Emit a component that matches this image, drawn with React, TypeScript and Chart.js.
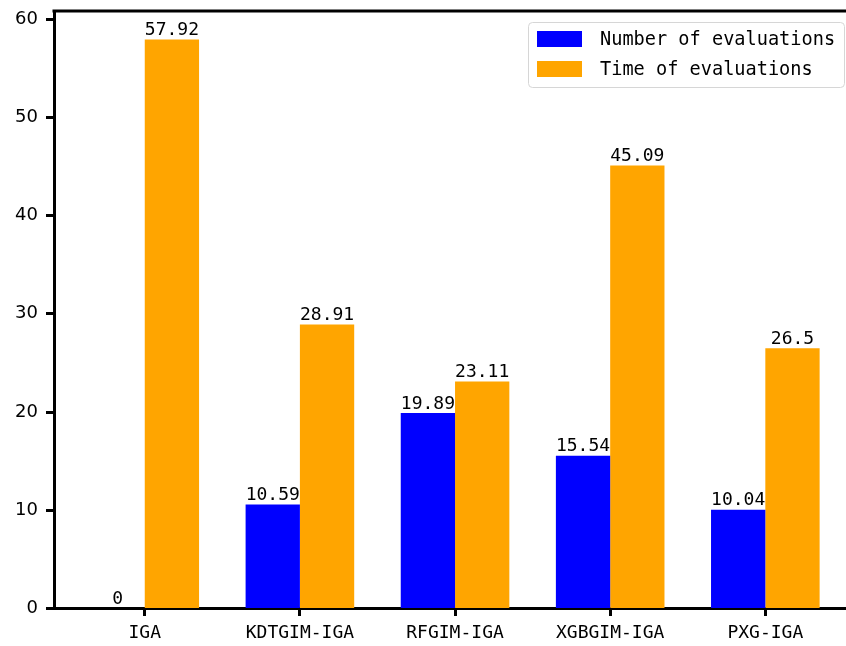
import React, { useEffect, useRef } from "react";
import { Chart, registerables } from "chart.js";

Chart.register(...registerables);

const categories = ["IGA", "KDTGIM-IGA", "RFGIM-IGA", "XGBGIM-IGA", "PXG-IGA"];
const numberOfEvaluations = [0, 10.59, 19.89, 15.54, 10.04];
const timeOfEvaluations = [57.92, 28.91, 23.11, 45.09, 26.5];
const seriesNames = ["Number of evaluations", "Time of evaluations"];
const seriesColors = ["#0000ff", "#ffa500"];
const yTickValues = [0, 10, 20, 30, 40, 50, 60];
const positions = [0, 1, 2, 3, 4];

const MONO = "'DejaVu Sans Mono', monospace";
const SANS = "'DejaVu Sans', sans-serif";

// Value text above each bar
const valueLabels = {
  id: "valueLabels",
  afterDatasetsDraw(chart: any) {
    const ctx = chart.ctx;
    ctx.save();
    ctx.font = `18px ${MONO}`;
    ctx.fillStyle = "#000";
    ctx.textAlign = "center";
    ctx.textBaseline = "alphabetic";
    chart.data.datasets.forEach((ds: any, di: number) => {
      const meta = chart.getDatasetMeta(di);
      meta.data.forEach((bar: any, i: number) => {
        const v = ds.data[i].y;
        ctx.fillText(String(v), bar.x, bar.y - 4.5);
      });
    });
    ctx.restore();
  },
};

// Top spine and legend box
const frameAndLegend = {
  id: "frameAndLegend",
  afterDraw(chart: any) {
    const ctx = chart.ctx;
    const a = chart.chartArea;
    ctx.save();
    ctx.strokeStyle = "#000";
    ctx.lineWidth = 3;
    ctx.beginPath();
    ctx.moveTo(a.left - 1.5, a.top);
    ctx.lineTo(a.right, a.top);
    ctx.stroke();

    const bx = 528.5, by = 22.5, bw = 316, bh = 65, r = 4;
    ctx.beginPath();
    ctx.moveTo(bx + r, by);
    ctx.lineTo(bx + bw - r, by);
    ctx.quadraticCurveTo(bx + bw, by, bx + bw, by + r);
    ctx.lineTo(bx + bw, by + bh - r);
    ctx.quadraticCurveTo(bx + bw, by + bh, bx + bw - r, by + bh);
    ctx.lineTo(bx + r, by + bh);
    ctx.quadraticCurveTo(bx, by + bh, bx, by + bh - r);
    ctx.lineTo(bx, by + r);
    ctx.quadraticCurveTo(bx, by, bx + r, by);
    ctx.closePath();
    ctx.fillStyle = "rgba(255,255,255,0.8)";
    ctx.fill();
    ctx.strokeStyle = "#d6d6d6";
    ctx.lineWidth = 1;
    ctx.stroke();

    ctx.font = `18.6px ${MONO}`;
    ctx.textAlign = "left";
    ctx.textBaseline = "middle";
    seriesNames.forEach((name, i) => {
      const cy = 39 + i * 30;
      ctx.fillStyle = seriesColors[i];
      ctx.fillRect(537, cy - 8, 45, 16);
      ctx.fillStyle = "#000";
      ctx.fillText(name, 600, cy + 1);
    });
    ctx.restore();
  },
};

export default function App() {
  const canvasRef = useRef<HTMLCanvasElement | null>(null);

  useEffect(() => {
    if (!canvasRef.current) return;
    const chart = new Chart(canvasRef.current, {
      type: "bar",
      data: {
        datasets: [
          {
            label: seriesNames[0],
            data: positions.map((x, i) => ({ x, y: numberOfEvaluations[i] })),
            backgroundColor: seriesColors[0],
            borderWidth: 0,
          },
          {
            label: seriesNames[1],
            data: positions.map((x, i) => ({ x, y: timeOfEvaluations[i] })),
            backgroundColor: seriesColors[1],
            borderWidth: 0,
          },
        ],
      },
      options: {
        responsive: false,
        animation: false,
        devicePixelRatio: 1,
        layout: { padding: { top: 11, right: 0, left: 0, bottom: 0 } },
        datasets: { bar: { categoryPercentage: 0.7, barPercentage: 1.0 } },
        plugins: {
          legend: { display: false },
          tooltip: { enabled: false },
        },
        scales: {
          x: {
            type: "linear",
            min: -0.585,
            max: 4.52,
            offset: false,
            afterFit(scale: any) {
              scale.height = 646 - 608.5;
              scale.paddingLeft = 0;
              scale.paddingRight = 0;
            },
            afterBuildTicks(scale: any) {
              scale.ticks = positions.map((v) => ({ value: v }));
            },
            ticks: {
              autoSkip: false,
              maxRotation: 0,
              padding: 7,
              color: "#000",
              font: { family: MONO, size: 18 },
              callback: (v: any) => categories[Number(v)] ?? "",
            },
            grid: {
              display: true,
              offset: false,
              drawOnChartArea: false,
              drawTicks: true,
              tickLength: 7.5,
              tickWidth: 3,
              tickColor: "#000",
            },
            border: { display: true, color: "#000", width: 3 },
          },
          y: {
            min: 0,
            max: 60.816,
            afterFit(scale: any) {
              scale.width = 54;
              scale.paddingTop = 0;
              scale.paddingBottom = 0;
            },
            afterBuildTicks(scale: any) {
              scale.ticks = yTickValues.map((v) => ({ value: v }));
            },
            ticks: {
              padding: 8,
              color: "#000",
              font: { family: SANS, size: 18 },
            },
            grid: {
              display: true,
              drawOnChartArea: false,
              drawTicks: true,
              tickLength: 8,
              tickWidth: 3,
              tickColor: "#000",
            },
            border: { display: true, color: "#000", width: 3 },
          },
        },
      },
      plugins: [valueLabels, frameAndLegend],
    });
    return () => chart.destroy();
  }, []);

  return (
    <div style={{ position: "fixed", left: 0, top: 0, width: 846, height: 646, background: "#fff" }}>
      <canvas ref={canvasRef} width={846} height={646} />
    </div>
  );
}
